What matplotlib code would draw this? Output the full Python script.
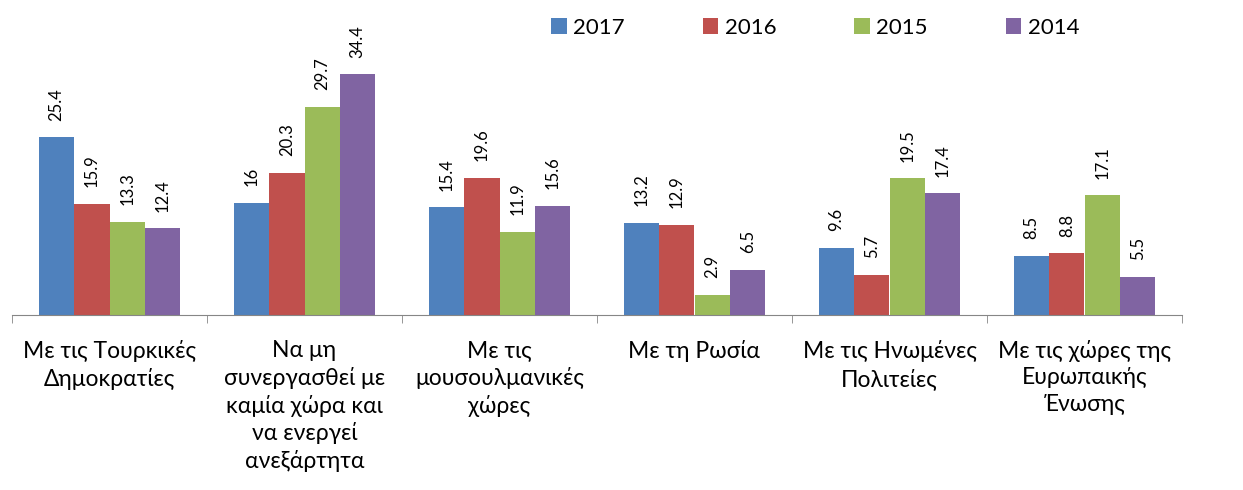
import numpy as np
import matplotlib.pyplot as plt

# data
categories = ['Με τις Τουρκικές\nΔημοκρατίες',
              'Να μη\nσυνεργασθεί με\nκαμία χώρα και\nνα ενεργεί\nανεξάρτητα',
              'Με τις\nμουσουλμανικές\nχώρες',
              'Με τη Ρωσία',
              'Με τις Ηνωμένες\nΠολιτείες',
              'Με τις χώρες της\nΕυρωπαικής\nΈνωσης']
years = ['2017', '2016', '2015', '2014']
v2017 = [25.4, 16, 15.4, 13.2, 9.6, 8.5]
v2016 = [15.9, 20.3, 19.6, 12.9, 5.7, 8.8]
v2015 = [13.3, 29.7, 11.9, 2.9, 19.5, 17.1]
v2014 = [12.4, 34.4, 15.6, 6.5, 17.4, 5.5]
series = [v2017, v2016, v2015, v2014]
colors = ['#4F81BD', '#C0504D', '#9BBB59', '#8064A2']

plt.rcParams['font.family'] = ['Lato', 'DejaVu Sans']

fig = plt.figure(figsize=(12.43, 4.9), dpi=100)
ax = fig.add_axes([12 / 1243, 1 - 315 / 490, 1170 / 1243, 295 / 490])

x = np.arange(len(categories))
w = 0.182
for i, (vals, c) in enumerate(zip(series, colors)):
    pos = x + (i - 1.5) * w
    ax.bar(pos, vals, width=w, color=c, label=years[i])
    for p, v in zip(pos, vals):
        ax.annotate(f'{v:g}', (p, v), xytext=(0, 12), textcoords='offset points',
                    rotation=90, ha='center', va='bottom', fontsize=12)

ax.set_xlim(-0.5, len(categories) - 0.5)
ax.set_ylim(0, 295 / 7.0)

for s in ['top', 'right', 'left']:
    ax.spines[s].set_visible(False)
ax.spines['bottom'].set_color('#868686')
ax.set_yticks([])
ax.set_xticks(x)
ax.set_xticklabels(categories, fontsize=16.5, linespacing=1.32)
ax.tick_params(axis='x', which='major', length=0, pad=18)
ax.set_xticks(np.arange(-0.5, len(categories) + 0.5, 1), minor=True)
ax.tick_params(axis='x', which='minor', length=6, color='#868686', direction='out')

fig.legend(loc='center left', bbox_to_anchor=(551 / 1243, 1 - 28 / 490), ncol=4,
           frameon=False, fontsize=16, handlelength=0.7, handleheight=0.7,
           handletextpad=0.3, columnspacing=3.5, borderaxespad=0, borderpad=0)

fig.savefig('out.png', dpi=100)
